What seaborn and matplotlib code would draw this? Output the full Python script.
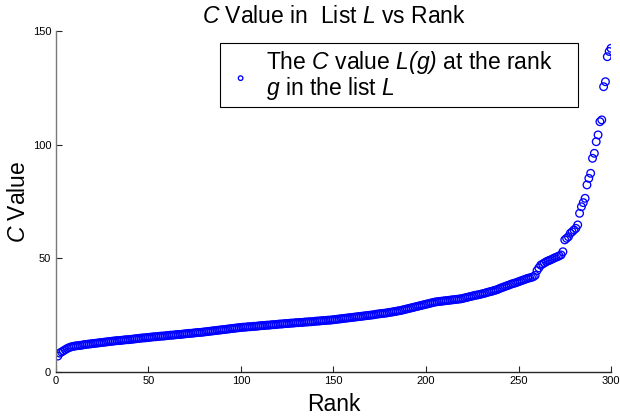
import matplotlib

matplotlib.use("Agg")
import matplotlib.pyplot as plt
import seaborn as sns

# C value at each rank of list L
c_values = [
    7.0, 8.3, 8.8, 9.3, 9.8, 10.3, 10.7, 11.0, 11.2, 11.4,
    11.5, 11.6, 11.7, 11.8, 12.0, 12.1, 12.2, 12.3, 12.4, 12.5,
    12.6, 12.7, 12.8, 12.9, 13.0, 13.1, 13.2, 13.3, 13.4, 13.5,
    13.6, 13.7, 13.8, 13.8, 13.9, 14.0, 14.1, 14.2, 14.2, 14.3,
    14.4, 14.5, 14.6, 14.7, 14.8, 14.9, 15.0, 15.0, 15.1, 15.2,
    15.3, 15.4, 15.5, 15.5, 15.6, 15.7, 15.8, 15.8, 15.9, 16.0,
    16.1, 16.2, 16.2, 16.3, 16.4, 16.5, 16.5, 16.6, 16.7, 16.8,
    16.9, 17.0, 17.0, 17.1, 17.2, 17.3, 17.4, 17.4, 17.5, 17.6,
    17.7, 17.8, 17.9, 18.0, 18.1, 18.2, 18.3, 18.4, 18.5, 18.6,
    18.7, 18.8, 18.9, 19.0, 19.1, 19.2, 19.3, 19.4, 19.5, 19.6,
    19.7, 19.7, 19.8, 19.9, 19.9, 20.0, 20.1, 20.1, 20.2, 20.3,
    20.4, 20.4, 20.5, 20.6, 20.6, 20.7, 20.8, 20.8, 20.9, 21.0,
    21.1, 21.1, 21.2, 21.3, 21.3, 21.4, 21.5, 21.5, 21.6, 21.7,
    21.7, 21.8, 21.8, 21.9, 22.0, 22.0, 22.1, 22.1, 22.2, 22.3,
    22.4, 22.4, 22.5, 22.6, 22.6, 22.7, 22.8, 22.8, 22.9, 23.0,
    23.1, 23.2, 23.3, 23.4, 23.5, 23.6, 23.7, 23.8, 23.9, 24.0,
    24.1, 24.2, 24.3, 24.4, 24.5, 24.6, 24.7, 24.8, 24.9, 25.0,
    25.1, 25.2, 25.4, 25.5, 25.6, 25.7, 25.8, 25.9, 26.0, 26.2,
    26.3, 26.4, 26.6, 26.7, 26.9, 27.0, 27.2, 27.4, 27.6, 27.8,
    28.0, 28.2, 28.4, 28.6, 28.8, 29.0, 29.2, 29.4, 29.6, 29.8,
    30.0, 30.2, 30.4, 30.6, 30.8, 30.9, 31.0, 31.1, 31.2, 31.3,
    31.4, 31.5, 31.6, 31.7, 31.8, 31.9, 32.0, 32.1, 32.2, 32.4,
    32.6, 32.8, 33.0, 33.2, 33.4, 33.6, 33.8, 33.9, 34.1, 34.3,
    34.5, 34.7, 35.0, 35.2, 35.4, 35.6, 35.9, 36.1, 36.4, 36.8,
    37.1, 37.4, 37.7, 38.0, 38.3, 38.6, 38.9, 39.1, 39.4, 39.7,
    40.0, 40.3, 40.6, 40.9, 41.2, 41.4, 41.6, 41.9, 42.5, 44.6,
    45.8, 47.0, 47.5, 48.0, 48.5, 48.9, 49.2, 49.6, 50.0, 50.4,
    50.7, 51.1, 51.5, 52.9,
    58.1, 58.8, 59.5, 61.0, 61.7, 62.5, 63.2, 64.7,
    69.8, 72.7, 74.5, 76.4,
    82.3, 85.2, 87.4,
    94.0, 96.2,
    101.3, 104.3,
    110.1, 110.9,
    125.5, 127.7,
    138.7, 141.0, 142.4,
]
ranks = list(range(1, len(c_values) + 1))

x_ticks = [0, 50, 100, 150, 200, 250, 300]
y_ticks = [0, 50, 100, 150]

sns.set_style("ticks")
plt.rcParams["font.family"] = ["Liberation Sans", "DejaVu Sans"]
plt.rcParams["text.color"] = "black"
plt.rcParams["axes.labelcolor"] = "black"
# math parts are only used for the italic symbols, so keep them all italic
plt.rcParams["mathtext.fontset"] = "custom"
plt.rcParams["mathtext.rm"] = "Liberation Sans:italic"
plt.rcParams["mathtext.it"] = "Liberation Sans:italic"

fig = plt.figure(figsize=(6.2, 4.19), dpi=100)
ax = fig.add_axes([0.0903, 0.1122, 0.8952, 0.8138])

sns.scatterplot(
    x=ranks,
    y=c_values,
    ax=ax,
    marker="o",
    s=30,
    facecolor="none",
    edgecolor="#0000ff",
    linewidth=0.95,
    label="The $C$ value $L(g)$ at the rank\n$g$ in the list $L$",
)
for coll in ax.collections:
    coll.set_facecolor("none")
    coll.set_edgecolor("#0000ff")

ax.set_xlim(0, 300)
ax.set_ylim(0, 150)
ax.set_xticks(x_ticks)
ax.set_yticks(y_ticks)
ax.tick_params(direction="in", length=4, labelsize=8, colors="#262626", labelcolor="black")
ax.tick_params(axis="x", pad=3)
ax.tick_params(axis="y", pad=3.5)

sns.despine(ax=ax)
ax.spines["left"].set_color("#7a7a7a")
ax.spines["bottom"].set_color("#262626")
ax.spines["left"].set_linewidth(1.0)
ax.spines["bottom"].set_linewidth(1.0)

ax.set_title("$C$ Value in  List $L$ vs Rank", fontsize=16.5, pad=6, color="black")
ax.set_xlabel("Rank", fontsize=16.5, labelpad=5)
ax.set_ylabel("$C$ Value", fontsize=16.5, labelpad=2)

leg = ax.legend(
    loc="upper left",
    bbox_to_anchor=(0.2955, 0.4, 0.645, 0.565),
    mode="expand",
    borderaxespad=0,
    fontsize=16.5,
    frameon=True,
    fancybox=False,
    framealpha=1,
    edgecolor="black",
    handletextpad=0.45,
    handlelength=1.3,
    borderpad=0.25,
    markerscale=0.6,
)
leg.get_frame().set_linewidth(0.8)
for t in leg.get_texts():
    t.set_linespacing(0.95)
    t.set_color("black")

fig.savefig("out.png", dpi=100)
